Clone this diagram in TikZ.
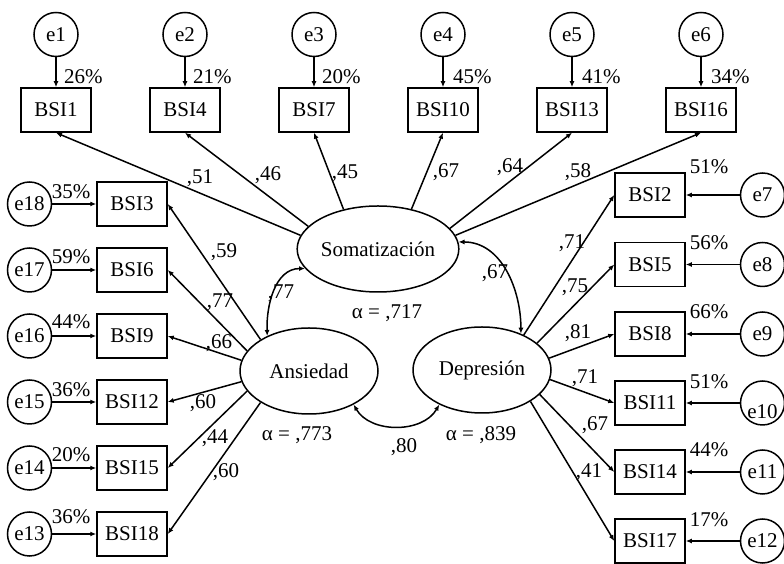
\documentclass[tikz,border=0pt]{standalone}
\usepackage{fontspec}
\setmainfont{Liberation Serif}
\usepackage{tikz}
\usetikzlibrary{arrows.meta,positioning,shapes.geometric}

\begin{document}
\begin{tikzpicture}[x=1pt, y=1pt, font=\fontsize{21}{25}\selectfont, node distance=30pt, box/.style={draw, line width=1.5pt, minimum width=70pt, minimum height=44pt, inner sep=0pt}, err/.style={draw, circle, line width=1.5pt, minimum size=44pt, inner sep=0pt}, lat/.style={draw, ellipse, line width=1.5pt, minimum width=138pt, minimum height=86pt, inner sep=0pt}, arr/.style={-{Latex[length=6pt,width=5pt]}, line width=1.5pt}, cov/.style={{Latex[length=6pt,width=5pt]}-{Latex[length=6pt,width=5pt]}, line width=1.5pt}, lab/.style={inner sep=1pt}]
\useasboundingbox (0,0) rectangle (784,564);
% observed items
\node[box] (b1) at (56,454) {BSI1};
\node[box] (b4) at (185,454) {BSI4};
\node[box] (b7) at (314,454) {BSI7};
\node[box] (b10) at (443,454) {BSI10};
\node[box] (b13) at (572,454) {BSI13};
\node[box] (b16) at (701,454) {BSI16};
\node[box] (b3) at (132,360) {BSI3};
\node[box] (b6) at (132,294) {BSI6};
\node[box] (b9) at (132,228) {BSI9};
\node[box] (b12) at (132,162) {BSI12};
\node[box] (b15) at (132,96) {BSI15};
\node[box] (b18) at (132,30) {BSI18};
\node[box] (b2) at (650,369) {BSI2};
\node[box] (b5) at (650,299.5) {BSI5};
\node[box] (b8) at (650,230) {BSI8};
\node[box] (b11) at (650,161) {BSI11};
\node[box] (b14) at (650,92) {BSI14};
\node[box] (b17) at (650,23) {BSI17};
% error terms
\node[err,above=of b1] (e1) {e1};
\node[err,above=of b4] (e2) {e2};
\node[err,above=of b7] (e3) {e3};
\node[err,above=of b10] (e4) {e4};
\node[err,above=of b13] (e5) {e5};
\node[err,above=of b16] (e6) {e6};
\node[err,left=44pt of b3] (e18) {e18};
\node[err,left=44pt of b6] (e17) {e17};
\node[err,left=44pt of b9] (e16) {e16};
\node[err,left=44pt of b12] (e15) {e15};
\node[err,left=44pt of b15] (e14) {e14};
\node[err,left=44pt of b18] (e13) {e13};
\node[err,right=54pt of b2] (e7) {e7};
\node[err,right=54pt of b5] (e8) {e8};
\node[err,right=54pt of b8] (e9) {e9};
\node[err,right=54pt of b11] (e10) {\raisebox{-16pt}[0pt][0pt]{e10}};
\node[err,right=54pt of b14] (e11) {e11};
\node[err,right=54pt of b17] (e12) {e12};
% factors
\node[lat] (soma) at (378,315) {Somatización};
\node[lat] (ans) at (309,193) {Ansiedad};
\node[lat] (dep) at (482,194) {Depresión};
\draw[arr] (e1)--(b1);
\draw[arr] (e2)--(b4);
\draw[arr] (e3)--(b7);
\draw[arr] (e4)--(b10);
\draw[arr] (e5)--(b13);
\draw[arr] (e6)--(b16);
\draw[arr] (e18)--(b3);
\draw[arr] (e17)--(b6);
\draw[arr] (e16)--(b9);
\draw[arr] (e15)--(b12);
\draw[arr] (e14)--(b15);
\draw[arr] (e13)--(b18);
\draw[arr] (e7)--(b2);
\draw[arr] (e8)--(b5);
\draw[arr] (e9)--(b8);
\draw[arr] (e10)--(b11);
\draw[arr] (e11)--(b14);
\draw[arr] (e12)--(b17);
\draw[arr] (soma.170)--(b1.south);
\draw[arr] (soma.162)--(b4.south);
\draw[arr] (soma.131)--(b7.south);
\draw[arr] (soma.50)--(b10.south);
\draw[arr] (soma.16)--(b13.south);
\draw[arr] (soma.10)--(b16.south);
\draw[arr] (ans.147)--(b3.east);
\draw[arr] (ans.162)--(b6.east);
\draw[arr] (ans.171)--(b9.east);
\draw[arr] (ans.189)--(b12.east);
\draw[arr] (ans.198)--(b15.east);
\draw[arr] (ans.213)--(b18.east);
\draw[arr] (dep.40)--(b2.west);
\draw[arr] (dep.26)--(b5.west);
\draw[arr] (dep.10)--(b8.west);
\draw[arr] (dep.-8)--(b11.west);
\draw[arr] (dep.-23)--(b14.west);
\draw[arr] (dep.-33)--(b17.west);
\draw[cov] (ans.140) to[out=92,in=180] (soma.195);
\draw[cov] (soma.5) to[out=0,in=90] (dep.43);
\draw[cov] (ans.-37) to[out=-60,in=-120] (dep.219);
% loadings
\node[lab] (w1) at (200,386) {,51};
\node[lab] (w4) at (268,389) {,46};
\node[lab] (w7) at (345,391) {,45};
\node[lab] (w10) at (446,392) {,67};
\node[lab] (w13) at (510,397) {,64};
\node[lab] (w16) at (578,392) {,58};
\node[lab] (w3) at (224,312) {,59};
\node[lab] (w6) at (220,262) {,77};
\node[lab] (w9) at (219,221) {,66};
\node[lab] (w12) at (203,161) {,60};
\node[lab] (w15) at (215,126) {,44};
\node[lab] (w18) at (226,92) {,60};
\node[lab] (w2) at (572,321) {,71};
\node[lab] (w5) at (575,277) {,75};
\node[lab] (w8) at (578,231) {,81};
\node[lab] (w11) at (585,186) {,71};
\node[lab] (w14) at (595,139) {,67};
\node[lab] (w17) at (589,92) {,41};
\node[lab] (c1) at (281,271) {,77};
\node[lab] (c2) at (495,291) {,67};
\node[lab] (c3) at (404,117) {,80};
% reliabilities
\node[lab] (a1) at (387,251) {α = ,717};
\node[lab] (a2) at (297,129) {α = ,773};
\node[lab] (a3) at (481,129) {α = ,839};
% explained variance
\node[lab,anchor=west] (r1) at (63,487) {26\%};
\node[lab,anchor=west] (r4) at (192,487) {21\%};
\node[lab,anchor=west] (r7) at (321,487) {20\%};
\node[lab,anchor=west] (r10) at (452,487) {45\%};
\node[lab,anchor=west] (r13) at (581,487) {41\%};
\node[lab,anchor=west] (r16) at (710,487) {34\%};
\node[lab] (r3) at (71,372) {35\%};
\node[lab] (r6) at (71,307) {59\%};
\node[lab] (r9) at (71,242) {44\%};
\node[lab] (r12) at (71,174) {36\%};
\node[lab] (r15) at (71,109) {20\%};
\node[lab] (r18) at (71,47) {36\%};
\node[lab] (r2) at (709,397) {51\%};
\node[lab] (r5) at (709,321) {56\%};
\node[lab] (r8) at (709,252) {66\%};
\node[lab] (r11) at (709,182) {51\%};
\node[lab] (r14) at (709,114) {44\%};
\node[lab] (r17) at (709,44) {17\%};
\end{tikzpicture}
\end{document}
